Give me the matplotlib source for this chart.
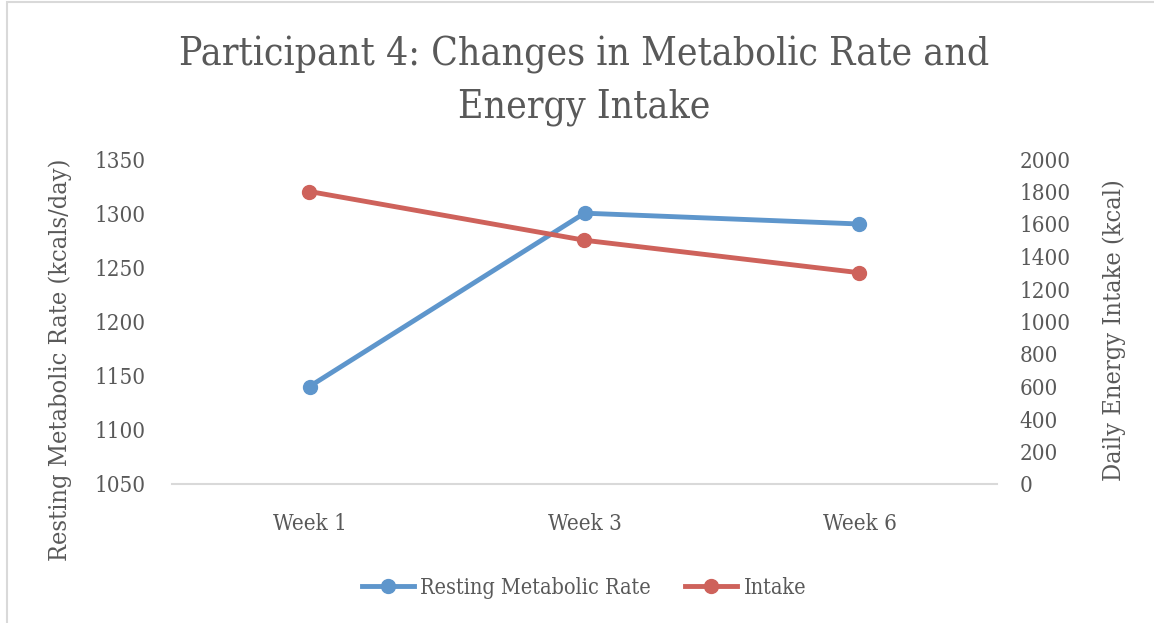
import matplotlib
matplotlib.use("Agg")
import matplotlib.pyplot as plt
from matplotlib.patches import Rectangle

weeks = ["Week 1", "Week 3", "Week 6"]
rmr = [1140, 1300, 1290]
intake = [1800, 1500, 1300]
left_ticks = [1050, 1100, 1150, 1200, 1250, 1300, 1350]
right_ticks = [0, 200, 400, 600, 800, 1000, 1200, 1400, 1600, 1800, 2000]

FONT = "DejaVu Serif"
STRETCH = "condensed"
TXT = "#595959"
BLUE = "#5E96CC"
RED = "#CE625B"
W, H = 1154, 623

fig = plt.figure(figsize=(W / 100, H / 100), dpi=100)
fig.patches.append(Rectangle((0.006, -0.01), 1.2, 1.006, transform=fig.transFigure,
                             fill=False, edgecolor="#D9D9D9", linewidth=1.5))
ax = fig.add_axes([172 / W, 1 - 484 / H, 825 / W, 325 / H])
ax2 = ax.twinx()

x = range(len(weeks))
l1, = ax.plot(x, rmr, color=BLUE, lw=3.5, marker="o", ms=10, label="Resting Metabolic Rate", zorder=3)
l2, = ax2.plot(x, intake, color=RED, lw=3.5, marker="o", ms=10, label="Intake", zorder=3)

ax.set_xlim(-0.5, 2.5)
ax.set_ylim(1050, 1350)
ax2.set_ylim(0, 2000)
ax.set_yticks(left_ticks)
ax2.set_yticks(right_ticks)
ax.set_xticks(list(x))
ax.set_xticklabels(weeks)

for a in (ax, ax2):
    for s in a.spines.values():
        s.set_visible(False)
    a.tick_params(length=0, colors=TXT, labelsize=16)
    for lab in a.get_xticklabels() + a.get_yticklabels():
        lab.set_fontfamily(FONT)
        lab.set_fontstretch(STRETCH)
ax.spines["bottom"].set_visible(True)
ax.spines["bottom"].set_color("#D9D9D9")
ax.spines["bottom"].set_linewidth(1.5)
ax.tick_params(axis="y", pad=19)
ax.tick_params(axis="x", pad=21)
ax2.tick_params(axis="y", pad=16)

ax.set_ylabel("Resting Metabolic Rate (kcals/day)", fontfamily=FONT, fontstretch=STRETCH,
              fontsize=18.2, color=TXT)
ax.yaxis.set_label_coords((72 - 172) / 825, (484 - 360) / 325)
ax2.set_ylabel("Daily Energy Intake (kcal)", fontfamily=FONT, fontstretch=STRETCH,
               fontsize=18.2, color=TXT)
ax2.yaxis.set_label_coords((1102 - 172) / 825, (484 - 330) / 325)

fig.text(584 / W, 1 - 65 / H, "Participant 4: Changes in Metabolic Rate and",
         ha="center", va="baseline", fontfamily=FONT, fontstretch=STRETCH, fontsize=28, color=TXT)
fig.text(584 / W, 1 - 117 / H, "Energy Intake",
         ha="center", va="baseline", fontfamily=FONT, fontstretch=STRETCH, fontsize=28, color=TXT)

fig.legend(handles=[l1, l2], loc="center", bbox_to_anchor=(584 / W, 1 - 588 / H), ncol=2,
           frameon=False, prop={"family": FONT, "stretch": STRETCH, "size": 15.5}, labelcolor=TXT,
           handlelength=2.4, handletextpad=0.3, columnspacing=1.6)

fig.savefig("out.png", dpi=100)
